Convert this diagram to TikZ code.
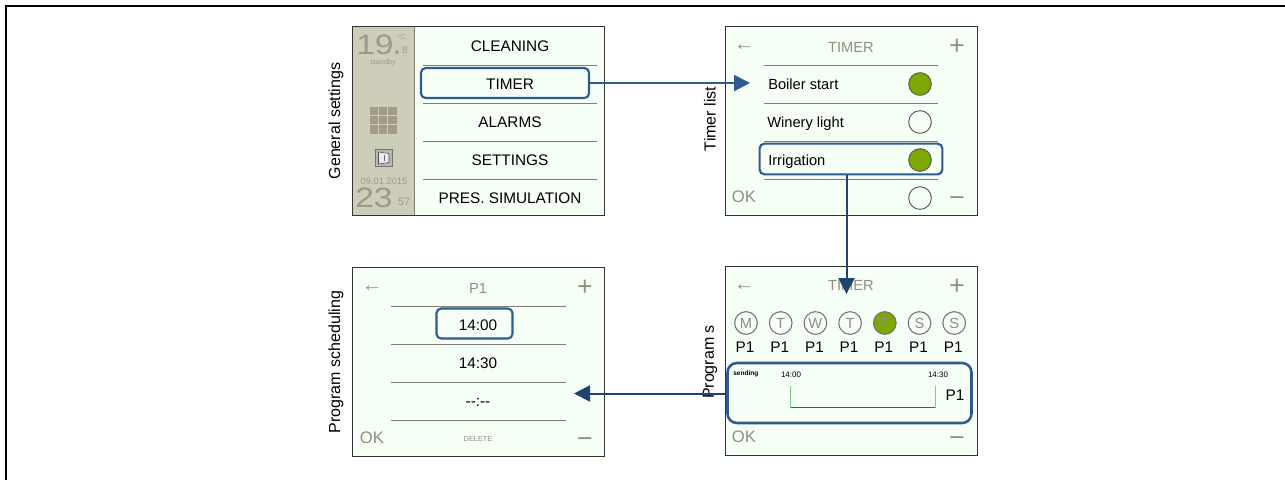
\documentclass[tikz,border=0pt]{standalone}
\usepackage{fontspec}
\setmainfont{Liberation Sans}
\usetikzlibrary{arrows.meta,positioning}
\definecolor{panelbg}{HTML}{F6FFF6}
\definecolor{sidebg}{HTML}{CDCDB9}
\definecolor{sidetxt}{HTML}{9A9A8C}
\definecolor{softtxt}{HTML}{90907C}
\definecolor{rulegray}{HTML}{7E7E72}
\definecolor{markblue}{HTML}{2F5A8E}
\definecolor{darkblue}{HTML}{1F4272}
\definecolor{ledgreen}{HTML}{7DA800}
\definecolor{tilebrown}{HTML}{A59C86}
\definecolor{slotblue}{HTML}{4040FF}
\definecolor{slotgreen}{HTML}{80C890}
\tikzset{
  x=0.75pt, y=-0.75pt,
  panel/.style={draw=black!80, fill=panelbg, line width=0.75pt, minimum width=189pt, minimum height=141.5pt, inner sep=0pt},
  item/.style={inner sep=0pt, text height=8pt, text depth=0pt, font=\fontsize{11.5}{13}\selectfont, text=black},
  side/.style={inner sep=0pt, rotate=90, font=\fontsize{12}{14}\selectfont, text=black},
  soft/.style={inner sep=0pt, text=softtxt, font=\fontsize{11}{13}\selectfont},
  backkey/.style={soft, yshift=-2.2pt, font=\fontsize{15}{15}\selectfont},
  pluskey/.style={soft, yshift=-1.5pt, font=\fontsize{20}{20}\selectfont},
  minuskey/.style={soft, yshift=-3.6pt, font=\fontsize{20}{20}\selectfont},
  okkey/.style={soft, font=\fontsize{12.5}{13}\selectfont},
  sidenum/.style={inner sep=0pt, text=sidetxt, xscale=1.2, font=\fontsize{21}{21}\selectfont},
  sidetiny/.style={inner sep=0pt, text=sidetxt},
  rowline/.style={draw=rulegray, line width=0.75pt},
  markbox/.style={draw=markblue, line width=1.6pt, rounded corners=3.5pt, inner sep=0pt},
  led/.style={circle, draw=black!65, line width=0.7pt, minimum size=17pt, inner sep=0pt},
  day/.style={circle, draw=black!55, line width=0.8pt, minimum size=17pt, inner sep=0pt, text=black!45, font=\fontsize{11}{13}\selectfont},
  flow/.style={draw=markblue, line width=1.5pt, -{Triangle[length=12pt,width=12pt]}},
  flowdark/.style={draw=darkblue, line width=1.5pt, -{Triangle[length=12pt,width=12pt]}},
}
\begin{document}
\begin{tikzpicture}
  \useasboundingbox (0,0) rectangle (1285,480);
  % page frame
  \draw[line width=1.5pt] (6,480) -- (6,6) -- (1285,6);

  % general settings
  \node[panel, anchor=north west] (settings) at (352,26) {};
  \fill[sidebg] (353,27) rectangle (414,214.5);
  \draw[draw=rulegray] (414.5,27) -- (414.5,214.5);
  \node[sidenum] (temp) at (375,45) {19};
  \node[sidetiny, text height=2pt, text depth=0pt, font=\fontsize{24}{24}\selectfont] (tempdot) at (397,53) {.};
  \node[sidetiny, font=\fontsize{5}{5}\selectfont] (deg) at (402,37) {°C};
  \node[sidetiny, font=\fontsize{7.5}{8}\selectfont] (tempdec) at (405,50) {8};
  \node[sidetiny, font=\fontsize{5.5}{6}\selectfont] (standby) at (383,62.5) {standby};
  \foreach \r in {0,1,2}
    \foreach \c in {0,1,2}
      \fill[tilebrown] (370+9.2*\c,107+9.2*\r) rectangle +(8.2,8.2);
  \node[draw=black!55, fill=sidetxt!70, minimum size=12.5pt, inner sep=0pt] (door) at (383.5,158) {};
  \fill[blue!8!panelbg, draw=black!70, line width=0.4pt] (378.5,152) -- (389,153.5) -- (389,162.5) -- (378.5,164) -- cycle;
  \draw[black!60, line width=0.4pt] (384,155) -- (384,161);
  \node[sidetiny, font=\fontsize{7}{7}\selectfont] (date) at (384,181) {09.01.2015};
  \node[sidenum] (hour) at (374,198) {23};
  \node[sidetiny, font=\fontsize{8}{8}\selectfont] (minute) at (404,202) {57};
  \node[item] (cleaning) at (510,46) {CLEANING};
  \node[item] (timer) at (510,84) {TIMER};
  \node[item] (alarms) at (510,122) {ALARMS};
  \node[item] (setup) at (510,160) {SETTINGS};
  \node[item] (simulation) at (510,198) {PRES. SIMULATION};
  \foreach \y in {65,103,141,179}
    \draw[rowline] (423,\y) -- (597,\y);
  \node[markbox, minimum width=126pt, minimum height=22.5pt] (timermark) at (505,83) {};
  \node[side] (settingslabel) at (336,121) {General settings};

  % timer list
  \node[panel, anchor=north west] (timers) at (725,26) {};
  \node[backkey] (timersback) at (744,45) {←};
  \node[soft] (timerstitle) at (851,47) {TIMER};
  \node[pluskey] (timersplus) at (957,45) {+};
  \node[okkey] (timersok) at (744,197) {OK};
  \node[minuskey] (timersminus) at (957,197) {−};
  \node[item, anchor=west, font=\fontsize{11}{13}\selectfont] (boiler) at (768,84) {Boiler start};
  \node[item, anchor=west, font=\fontsize{11}{13}\selectfont] (winery) at (767,122) {Winery light};
  \node[item, anchor=west, font=\fontsize{11}{13}\selectfont] (irrigation) at (768,160) {Irrigation};
  \node[led, fill=ledgreen] (boilerled) at (920,84) {};
  \node[led] (wineryled) at (920,122) {};
  \node[led, fill=ledgreen] (irrigationled) at (920,160) {};
  \node[led] (spareled) at (920,198) {};
  \foreach \y in {65,103,141,179}
    \draw[rowline] (764,\y) -- (938,\y);
  \node[markbox, minimum width=137pt, minimum height=23pt] (irrigationmark) at (851,159) {};
  \node[side] (timerslabel) at (710,119) {Timer list};

  % program selection
  \node[panel, anchor=north west] (program) at (725,266) {};
  \node[backkey] (programback) at (744,285) {←};
  \node[soft] (programtitle) at (851,285) {TIMER};
  \node[pluskey] (programplus) at (957,285) {+};
  \node[okkey] (programok) at (744,437) {OK};
  \node[minuskey] (programminus) at (957,437) {−};
  \foreach \d/\n/\f [count=\i from 0] in {M/mon/panelbg,T/tue/panelbg,W/wed/panelbg,T/thu/panelbg,F/fri/ledgreen,S/sat/panelbg,S/sun/panelbg} {
    \node[day, fill=\f] (\n) at (746+34.7*\i,323) {\d};
    \node[item] (\n p) at (745+34.7*\i,347) {P1};
  }
  \node[markbox, line width=1.9pt, rounded corners=7pt, minimum width=183pt, minimum height=45pt] (slotmark) at (849.5,393) {};
  \node[inner sep=0pt, anchor=west, font=\bfseries\fontsize{4.9}{5}\selectfont] (sending) at (733,374) {sending};
  \node[inner sep=0pt, font=\fontsize{6}{6}\selectfont] (slotstart) at (791,375) {14:00};
  \node[inner sep=0pt, font=\fontsize{6}{6}\selectfont] (slotend) at (938,375) {14:30};
  \node[item] (slotname) at (955,395) {P1};
  \coordinate (slota) at (790.5,386);
  \coordinate (slotb) at (790.5,407.5);
  \coordinate (slotc) at (935.5,407.5);
  \coordinate (slotd) at (935.5,386);
  \draw[slotblue, line width=0.9pt] (slotb) -- (slotc);
  \draw[slotgreen, line width=0.5pt] (slota) -- (slotb);
  \draw[slotgreen, line width=0.5pt] (slotc) -- (slotd);
  \node[side] (programlabel) at (710,362) {Program s};

  % program scheduling
  \node[panel, anchor=north west] (schedule) at (352,267) {};
  \node[backkey] (scheduleback) at (372,286) {←};
  \node[soft] (scheduletitle) at (478,288) {P1};
  \node[pluskey] (scheduleplus) at (585,286) {+};
  \node[okkey] (scheduleok) at (372,438) {OK};
  \node[minuskey] (scheduleminus) at (585,438) {−};
  \node[soft, font=\fontsize{5.5}{6}\selectfont] (delete) at (478,439) {DELETE};
  \node[item] (timeone) at (478,325) {14:00};
  \node[item] (timetwo) at (478,363) {14:30};
  \node[item] (timethree) at (478,401) {{-}{-}:{-}{-}};
  \foreach \y in {306,344,382,420}
    \draw[rowline] (391,\y) -- (566,\y);
  \node[markbox, minimum width=57pt, minimum height=22.5pt] (timemark) at (474.5,323.5) {};
  \node[side] (schedulelabel) at (336,362) {Program scheduling};

  % arrows
  \coordinate (boilerin) at (750,83);
  \coordinate (programin) at (846.5,294);
  \coordinate (schedulein) at (574,393.5);
  \draw[flow] (timermark.east) -- (boilerin);
  \draw[flowdark] (irrigationmark.south -| programin) -- (programin);
  \draw[flowdark] (slotmark.west |- schedulein) -- (schedulein);
\end{tikzpicture}
\end{document}
